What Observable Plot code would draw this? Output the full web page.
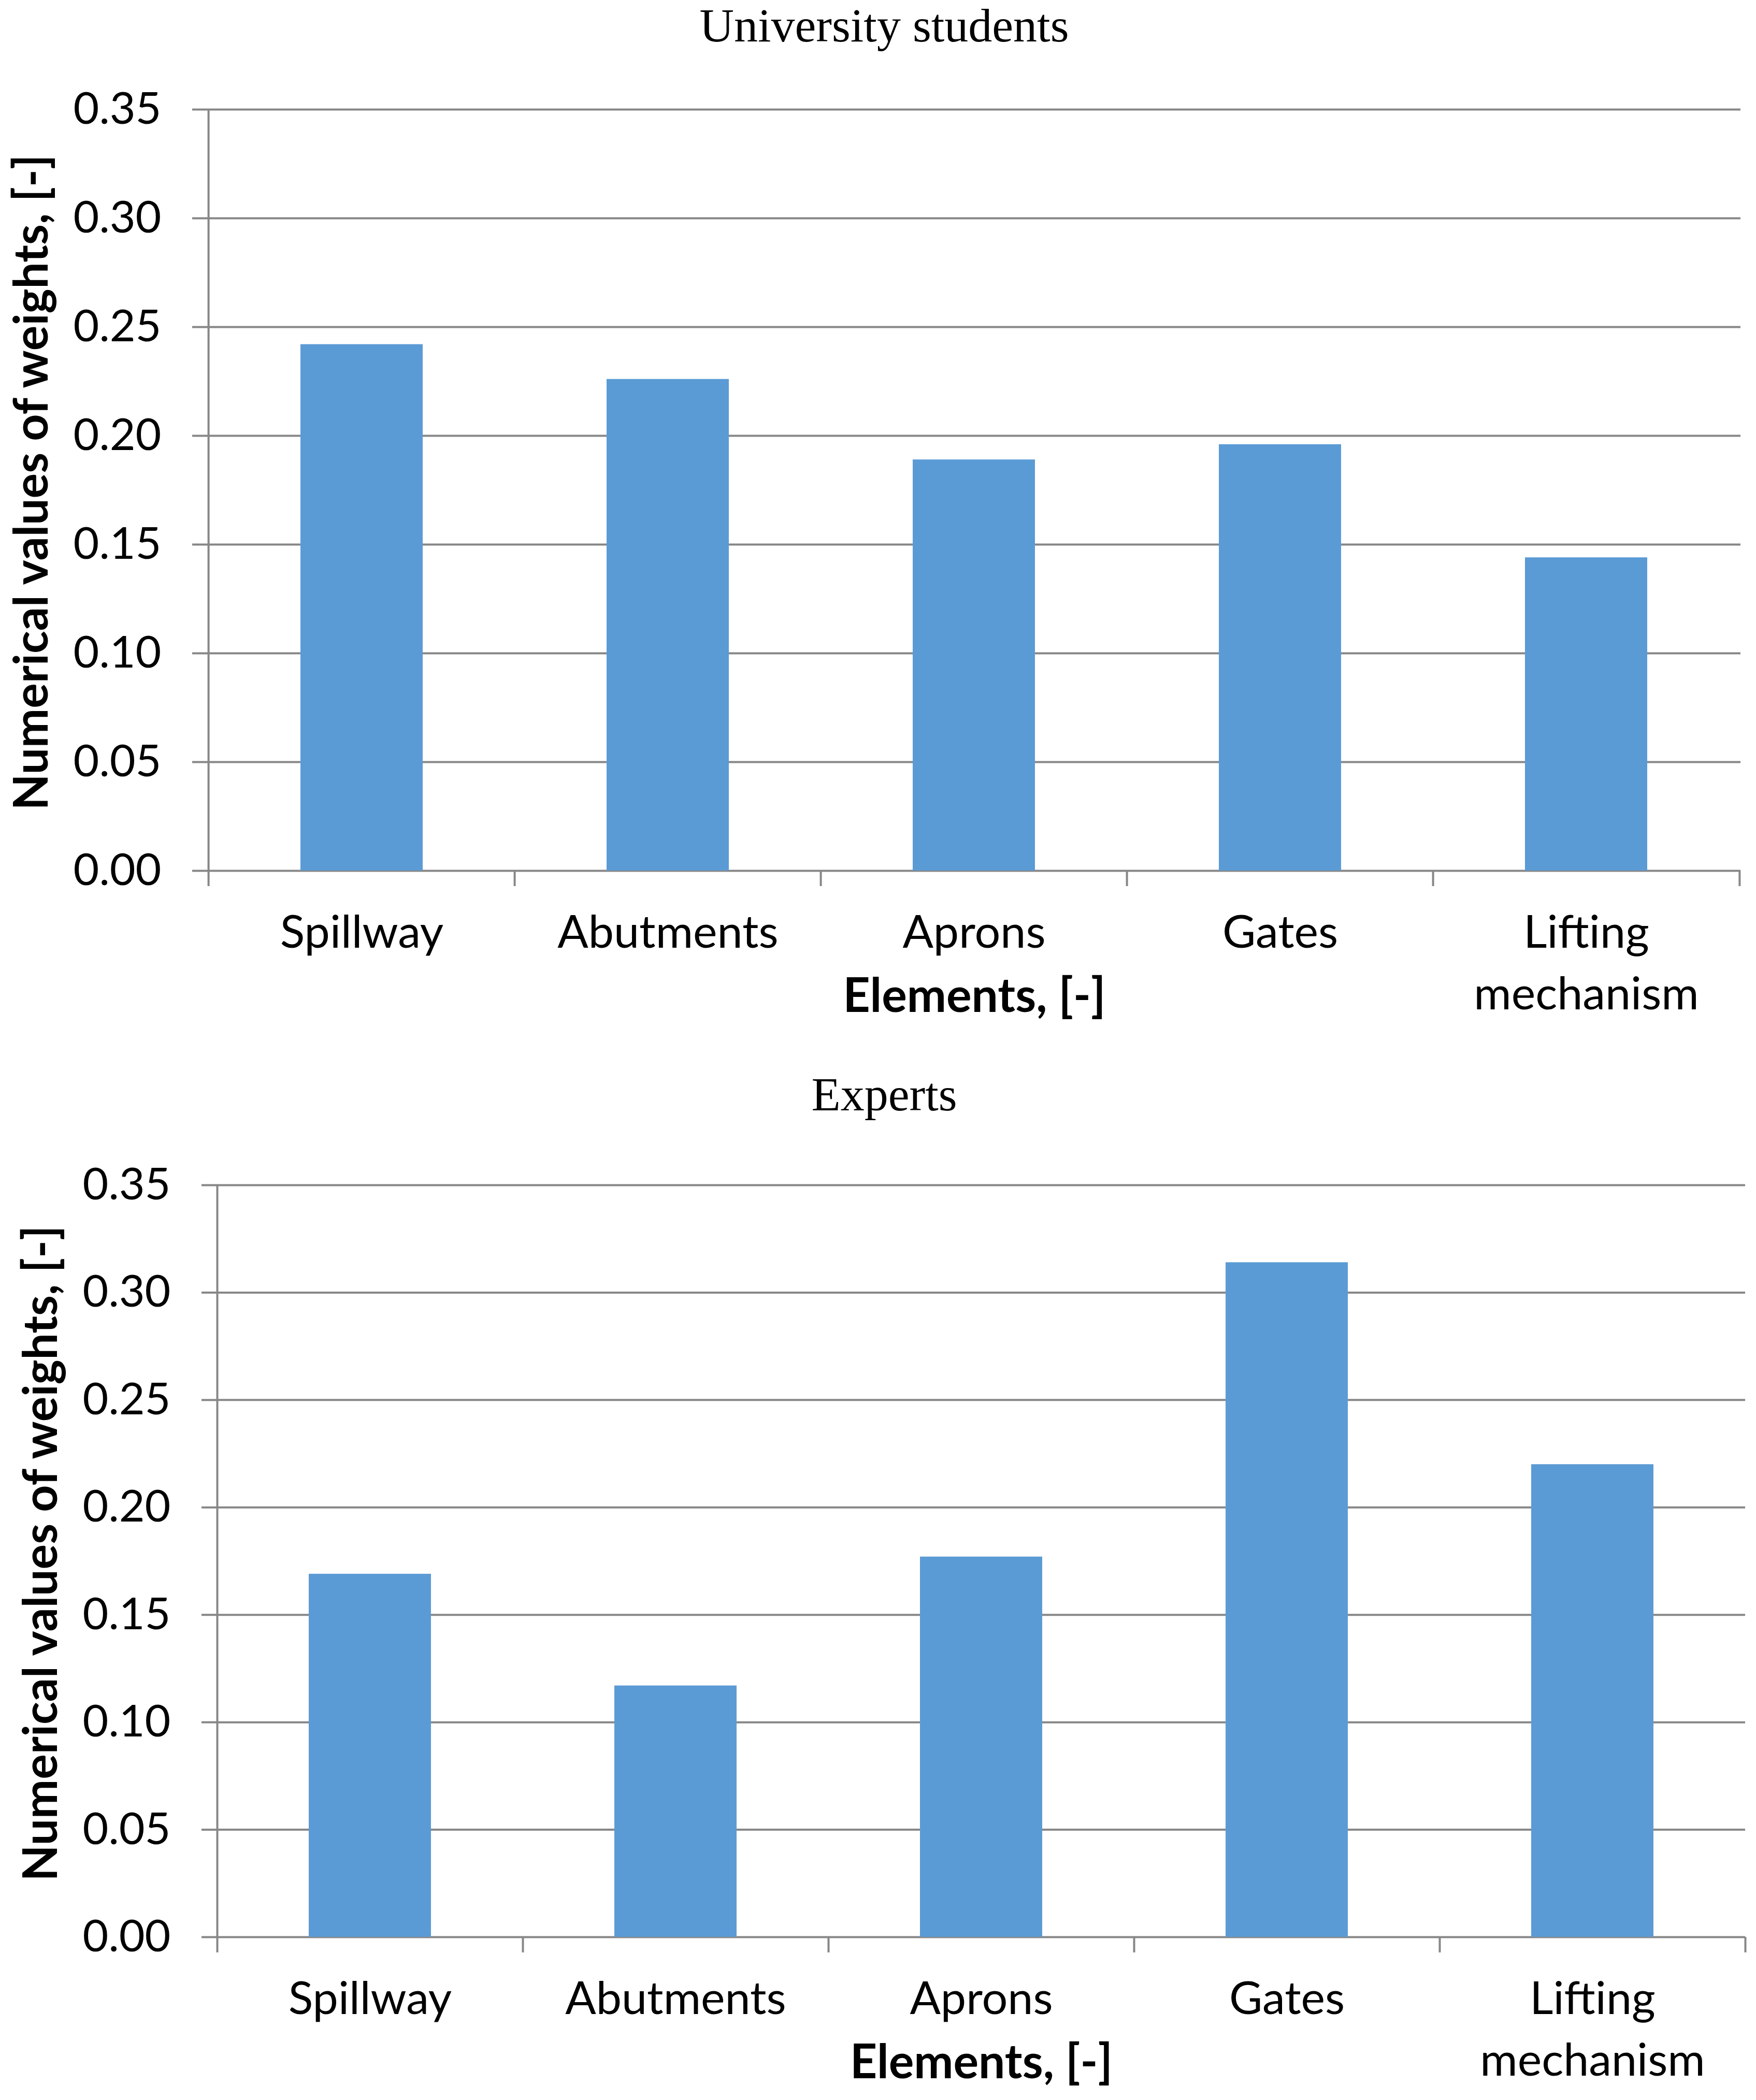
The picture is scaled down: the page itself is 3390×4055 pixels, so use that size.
<!DOCTYPE html>
<html>
<head>
<meta charset="utf-8">
<script src="https://cdn.jsdelivr.net/npm/d3@7"></script>
<script src="https://cdn.jsdelivr.net/npm/@observablehq/plot@0.6"></script>
<style>
  html, body { margin: 0; padding: 0; background: #fff; }
  #page { position: relative; width: 3390px; height: 4055px; }
  .chart { position: absolute; left: 0; }
  .title { position: absolute; left: 12px; width: 3390px; text-align: center;
           font-family: "Liberation Serif", serif; font-size: 92px; line-height: normal; color: #000; }
</style>
</head>
<body>
<div id="page"></div>
<script>
// ---- data ----
const categories = ["Spillway", "Abutments", "Aprons", "Gates", "Lifting mechanism"];
const tickLabels = ["Spillway", "Abutments", "Aprons", "Gates", "Lifting\nmechanism"];
const studentWeights = [0.242, 0.226, 0.189, 0.196, 0.144];
const expertWeights = [0.169, 0.117, 0.177, 0.314, 0.220];
const yTicks = [0, 0.05, 0.10, 0.15, 0.20, 0.25, 0.30, 0.35];
const titles = ["University students", "Experts"];
const xLabel = "Elements, [-]";
const yLabel = "Numerical values of weights, [-]";

const GRID = "#878787";
const BAR = "#5B9BD5";

function chart(values, {top, height, marginLeft, marginRight, marginTop, yLabelX}) {
  const width = 3390;
  const data = categories.map((c, i) => ({category: c, value: values[i]}));
  const step = (width - marginLeft - marginRight) / categories.length;
  const labelOf = new Map(categories.map((c, i) => [c, tickLabels[i]]));
  const svg = Plot.plot({
    width, height, marginLeft, marginRight, marginTop, marginBottom: 310,
    style: {fontFamily: "Lato, sans-serif", background: "#fff", color: "#000", overflow: "visible"},
    x: {type: "band", domain: categories, paddingInner: 0.6, paddingOuter: 0.3, label: null},
    y: {domain: [0, 0.35], label: null},
    marks: [
      Plot.gridY(yTicks, {stroke: GRID, strokeOpacity: 1, strokeWidth: 4}),
      Plot.barY(data, {x: "category", y: "value", fill: BAR}),
      // vertical axis line
      Plot.ruleX([categories[0]], {x: d => d, y1: 0, y2: 0.35, dx: -step / 2, stroke: GRID, strokeWidth: 4}),
      // category boundary ticks below the axis
      Plot.ruleX(categories, {x: d => d, y1: 0, y2: 0, dx: -step / 2, insetBottom: -30, stroke: GRID, strokeWidth: 4}),
      Plot.ruleX([categories[categories.length - 1]], {x: d => d, y1: 0, y2: 0, dx: step / 2, insetBottom: -30, stroke: GRID, strokeWidth: 4}),
      Plot.axisY({ticks: yTicks, tickFormat: d3.format(".2f"), tickSize: 30, tickPadding: 60,
                  fontSize: 86, stroke: GRID, strokeWidth: 4, strokeOpacity: 1, fill: "#000", label: null}),
      Plot.axisX({tickSize: 0, tickPadding: 64, fontSize: 88, lineHeight: 1.35, fill: "#000",
                  tickFormat: d => labelOf.get(d), label: null}),
      Plot.text([xLabel], {text: d => d, frameAnchor: "bottom", dy: 272, lineAnchor: "bottom",
                           fontSize: 91, fontWeight: "bold", fill: "#000"}),
      Plot.text([yLabel], {text: d => d, frameAnchor: "left", dx: -(marginLeft - yLabelX), dy: -15, rotate: -90,
                           textAnchor: "middle", lineAnchor: "middle", fontSize: 91, fontWeight: "bold", fill: "#000"})
    ]
  });
  svg.classList.add("chart");
  svg.style.top = top + "px";
  return svg;
}

const page = document.getElementById("page");
page.appendChild(chart(studentWeights, {top: 0, height: 1991, marginLeft: 401, marginRight: 30, marginTop: 211, yLabelX: 62}));
page.appendChild(chart(expertWeights, {top: 2000, height: 2050, marginLeft: 419, marginRight: 21, marginTop: 288, yLabelX: 80}));

[[titles[0], -4], [titles[1], 2060]].forEach(([t, y]) => {
  const d = document.createElement("div");
  d.className = "title";
  d.style.top = y + "px";
  d.textContent = t;
  page.appendChild(d);
});
</script>
</body>
</html>
